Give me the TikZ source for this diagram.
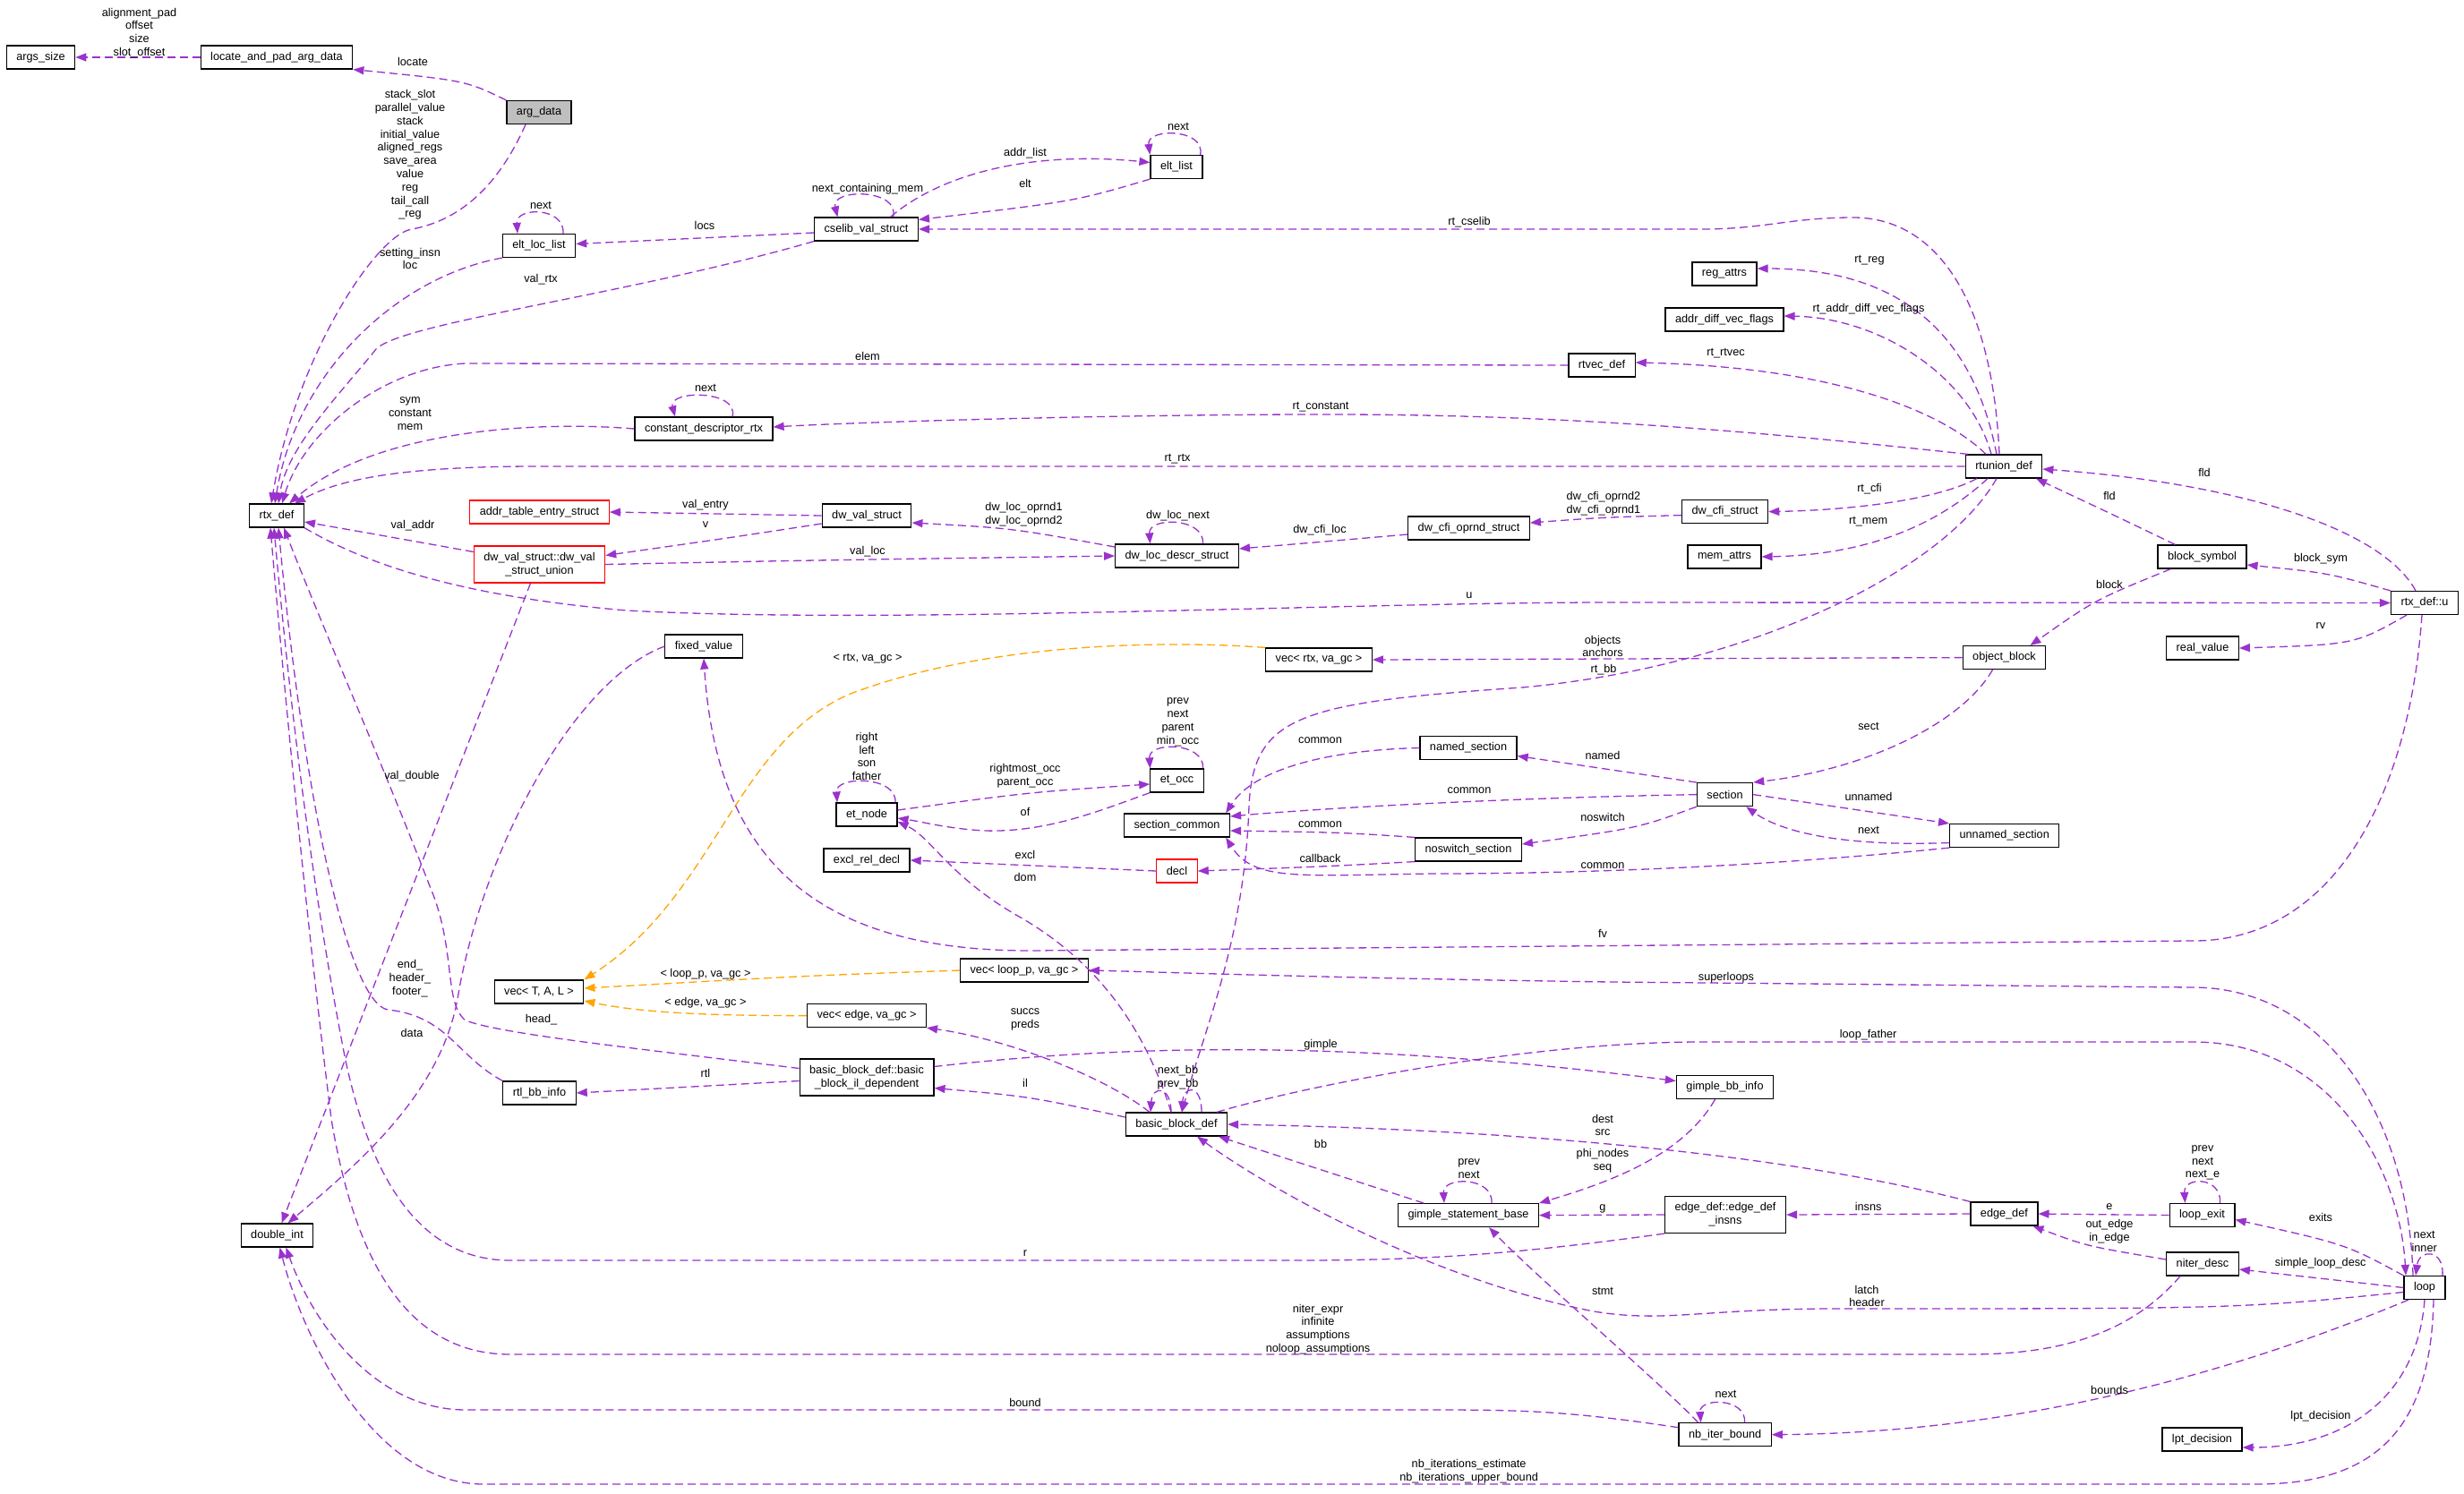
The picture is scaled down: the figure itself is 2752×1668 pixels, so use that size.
\documentclass[tikz,border=0pt]{standalone}
\usepackage{fontspec}
\setmainfont{Liberation Sans}
\usetikzlibrary{arrows.meta}
\definecolor{edgepurple}{HTML}{9A32CD}
\definecolor{instorange}{HTML}{FFA500}
\definecolor{argfill}{HTML}{BFBFBF}
\newcommand{\graphfont}{\fontsize{12.7}{14.8}\selectfont}

\begin{document}
\begin{tikzpicture}[x=1pt, y=-1pt,
  cls/.style={
    rectangle, draw=black, line width=1.2pt, fill=white,
    inner xsep=11pt, inner ysep=0pt, minimum height=26pt,
    font=\graphfont
  },
  clstwo/.style={cls, align=center, minimum height=41pt},
  lbl/.style={font=\graphfont, align=center, inner sep=0pt},
  member/.style={-{Triangle[length=12pt,width=9pt]}, draw=edgepurple,
    line width=1.3pt, dash pattern=on 9pt off 5pt},
  inst/.style={member, draw=instorange}
]
  \useasboundingbox[fill=white] (0,0) rectangle (2752,1668);

  % classes
  \node[cls] (argssize) at (45.5,64) {args\_size};
  \node[cls] (locate) at (309,64) {locate\_and\_pad\_arg\_data};
  \node[cls, fill=argfill] (argdata) at (602,125.5) {arg\_data};
  \node[cls] (eltloclist) at (602,274.5) {elt\_loc\_list};
  \node[cls] (cselib) at (967.5,256) {cselib\_val\_struct};
  \node[cls] (eltlist) at (1314,186.5) {elt\_list};
  \node[cls] (regattrs) at (1926,306) {reg\_attrs};
  \node[cls] (addrdiff) at (1926,357) {addr\_diff\_vec\_flags};
  \node[cls] (rtvec) at (1789,408) {rtvec\_def};
  \node[cls] (constdesc) at (786,479) {constant\_descriptor\_rtx};
  \node[cls] (rtunion) at (2238,521) {rtunion\_def};
  \node[cls] (rtxdef) at (309,576) {rtx\_def};
  \node[cls, draw=red] (addrtable) at (602.5,572) {addr\_table\_entry\_struct};
  \node[clstwo, draw=red] (dwunion) at (602.5,630.5) {dw\_val\_struct::dw\_val\\\_struct\_union};
  \node[cls] (dwval) at (968,576) {dw\_val\_struct};
  \node[cls] (dwlocdescr) at (1314.5,621) {dw\_loc\_descr\_struct};
  \node[cls] (dwcfioprnd) at (1640.5,590) {dw\_cfi\_oprnd\_struct};
  \node[cls] (dwcfi) at (1926.6,571.6) {dw\_cfi\_struct};
  \node[cls] (memattrs) at (1926,622) {mem\_attrs};
  \node[cls] (blocksym) at (2459.5,622) {block\_symbol};
  \node[cls] (rtxu) at (2708,673.5) {rtx\_def::u};
  \node[cls] (realvalue) at (2460,724) {real\_value};
  \node[cls] (objblock) at (2238.5,734.6) {object\_block};
  \node[cls] (vecrtx) at (1473,737) {vec< rtx, va\_gc >};
  \node[cls] (fixedvalue) at (786,722) {fixed\_value};
  \node[cls] (etocc) at (1314.5,872) {et\_occ};
  \node[cls] (etnode) at (968,910) {et\_node};
  \node[cls] (seccommon) at (1314.5,922) {section\_common};
  \node[cls] (namedsec) at (1640,835.5) {named\_section};
  \node[cls] (section) at (1926.5,887.6) {section};
  \node[cls] (unnamedsec) at (2238.7,933.5) {unnamed\_section};
  \node[cls] (noswitch) at (1640,949) {noswitch\_section};
  \node[cls] (excl) at (968,961) {excl\_rel\_decl};
  \node[cls, draw=red] (decl) at (1314.5,973) {decl};
  \node[cls] (vecloop) at (1144,1084) {vec< loop\_p, va\_gc >};
  \node[cls] (vectal) at (602,1108) {vec< T, A, L >};
  \node[cls] (vecedge) at (968,1134.6) {vec< edge, va\_gc >};
  \node[clstwo] (ildep) at (968,1203.5) {basic\_block\_def::basic\\\_block\_il\_dependent};
  \node[cls] (rtlbb) at (602.5,1221) {rtl\_bb\_info};
  \node[cls] (gimplebb) at (1926.5,1214.6) {gimple\_bb\_info};
  \node[cls] (bbdef) at (1314,1256) {basic\_block\_def};
  \node[cls] (gsb) at (1640,1357.6) {gimple\_statement\_base};
  \node[clstwo] (insns) at (1927,1357) {edge\_def::edge\_def\\\_insns};
  \node[cls] (edgedef) at (2238.4,1356) {edge\_def};
  \node[cls] (loopexit) at (2459.5,1357.5) {loop\_exit};
  \node[cls] (niterdesc) at (2460,1412) {niter\_desc};
  \node[cls] (loop) at (2708,1438.5) {loop};
  \node[cls] (doubleint) at (309.5,1380) {double\_int};
  \node[cls] (nbiter) at (1926.6,1602.7) {nb\_iter\_bound};
  \node[cls] (lpt) at (2459.5,1608) {lpt\_decision};

  % members, top left
  \draw[member] (locate.west) -- (argssize.east);
  \draw[member] (argdata.north west) .. controls (520,90) .. (locate.south east);
  \draw[member] ([xshift=-15pt]argdata.south) .. controls (560,200) and (520,245) .. (460,256)
    .. controls (420,262) and (330,400) .. ([xshift=-6pt]rtxdef.north);
  \draw[member] (eltloclist.south west) .. controls (440,310) and (330,420) .. ([xshift=-2pt]rtxdef.north);
  \draw[member] ([xshift=27pt]eltloclist.north) .. controls +(2,-30) and +(-2,-30) .. ([xshift=-24pt]eltloclist.north);
  \draw[member] ([yshift=-4pt]cselib.west) -- ([yshift=2pt]eltloclist.east);
  \draw[member] (cselib.south west) .. controls (700,330) and (450,360) .. (420,390)
    .. controls (380,440) and (320,500) .. ([xshift=2pt]rtxdef.north);
  \draw[member] ([xshift=30pt]cselib.north) .. controls +(8,-32) and +(-8,-32) .. ([xshift=-32pt]cselib.north);
  \draw[member] ([xshift=27pt]cselib.north) .. controls (1050,195) and (1150,168) .. ([yshift=5pt]eltlist.west);
  \draw[member] (eltlist.south west) .. controls (1200,225) .. ([yshift=-3pt]cselib.north east);
  \draw[member] ([xshift=-3pt]eltlist.north east) .. controls +(6,-30) and +(-4,-30) .. (eltlist.north west);
  \draw[member] ([xshift=32pt]constdesc.north) .. controls +(8,-30) and +(-8,-30) .. ([xshift=-32pt]constdesc.north);
  \draw[member] (constdesc.west) .. controls (600,470) and (420,480) .. ([xshift=14pt]rtxdef.north);

  % members of rtunion_def
  \draw[member] ([xshift=-5pt]rtunion.north) .. controls (2225,330) and (2160,243) .. (2070,243)
    .. controls (2000,243) and (1970,256) .. (1900,256) -- (cselib.east);
  \draw[member] ([xshift=-8pt]rtunion.north) .. controls (2205,380) and (2130,300) .. ([yshift=6pt]regattrs.east);
  \draw[member] ([xshift=-14pt]rtunion.north) .. controls (2200,420) and (2100,355) .. ([yshift=4pt]addrdiff.east);
  \draw[member] ([xshift=-20pt]rtunion.north) .. controls (2170,460) and (2050,410) .. ([yshift=3pt]rtvec.east);
  \draw[member] (rtvec.west) -- (520,406) .. controls (430,410) and (340,480) .. ([xshift=6pt]rtxdef.north);
  \draw[member] ([xshift=-40pt]rtunion.north) .. controls (1900,475) and (1700,462) .. (1450,463)
    .. controls (1200,464) and (950,472) .. ([yshift=2pt]constdesc.east);
  \draw[member] (rtunion.west) -- (600,521) .. controls (450,521) and (380,535) .. ([xshift=20pt]rtxdef.north);
  \draw[member] ([xshift=-30pt]rtunion.south) .. controls (2160,560) and (2060,570) .. (dwcfi.east);
  \draw[member] ([xshift=-18pt]rtunion.south) .. controls (2160,590) and (2080,620) .. (memattrs.east);
  \draw[member] ([xshift=-8pt]rtunion.south) .. controls (2170,640) and (1950,745) .. (1700,768)
    .. controls (1450,785) and (1400,800) .. (1395,900)
    .. controls (1390,1050) and (1345,1150) .. ([xshift=6pt]bbdef.north);
  \draw[member] ([xshift=-10pt]rtxu.north) .. controls (2660,590) and (2500,540) .. ([yshift=-3pt]rtunion.east);
  \draw[member] ([xshift=-30pt]blocksym.north) .. controls (2360,575) .. ([xshift=36pt]rtunion.south);
  \draw[member] (rtxu.north west) .. controls (2600,640) .. ([yshift=-9pt]blocksym.east);
  \draw[member] ([xshift=-35pt]blocksym.south) .. controls (2340,670) .. ([xshift=29pt]objblock.north);
  \draw[member] ([xshift=-20pt]rtxu.south) .. controls (2630,720) .. (realvalue.east);
  \draw[member] (rtxdef.south east) .. controls (400,625) and (500,665) .. (700,682)
    .. controls (1000,698) and (1500,673) .. (1800,673) -- (rtxu.west);

  % dwarf structures
  \draw[member] ([yshift=14pt]dwunion.west) .. controls (420,597) .. ([yshift=-7pt]rtxdef.east);
  \draw[member] (dwval.west) -- (addrtable.east);
  \draw[member] ([yshift=-9pt]dwval.west) .. controls (820,600) .. ([yshift=10pt]dwunion.east);
  \draw[member] (dwunion.east) .. controls (900,626) .. (dwlocdescr.west);
  \draw[member] ([yshift=10pt]dwlocdescr.west) .. controls (1130,590) .. ([yshift=-8pt]dwval.east);
  \draw[member] ([xshift=29pt]dwlocdescr.north) .. controls +(2,-30) and +(-2,-30) .. ([xshift=-30pt]dwlocdescr.north);
  \draw[member] ([yshift=-7pt]dwcfioprnd.west) .. controls (1480,605) .. ([yshift=8pt]dwlocdescr.east);
  \draw[member] ([yshift=-4pt]dwcfi.west) .. controls (1790,578) .. ([yshift=6pt]dwcfioprnd.east);
  \draw[member] ([xshift=-10pt]dwunion.south) -- ([xshift=5pt]doubleint.north);
  \draw[member] (fixedvalue.west) .. controls (640,760) and (540,950) .. (512,1110)
    .. controls (495,1220) and (400,1300) .. ([xshift=12pt]doubleint.north);

  % vectors
  \draw[member] (objblock.west) -- (vecrtx.east);
  \draw[inst] (vecrtx.north west) .. controls (1300,715) and (1100,718) .. (950,775)
    .. controls (820,830) and (800,1000) .. (vectal.north east);
  \draw[inst] (vecloop.west) .. controls (900,1090) .. ([yshift=4pt]vectal.east);
  \draw[inst] (vecedge.west) .. controls (760,1135) and (700,1128) .. ([yshift=-10pt]vectal.east);

  % sections
  \draw[member] ([xshift=-13pt]objblock.south) .. controls (2190,810) and (2080,860) .. (section.north east);
  \draw[member] (section.north west) -- ([yshift=-9pt]namedsec.east);
  \draw[member] (namedsec.west) .. controls (1480,838) and (1400,860) .. ([xshift=-5pt]seccommon.north east);
  \draw[member] (section.west) .. controls (1650,892) and (1450,905) .. ([yshift=10pt]seccommon.east);
  \draw[member] (noswitch.north west) .. controls (1500,930) .. ([yshift=-6pt]seccommon.east);
  \draw[member] (section.south west) .. controls (1830,925) .. ([yshift=6pt]noswitch.east);
  \draw[member] (noswitch.south west) .. controls (1480,968) .. (decl.east);
  \draw[member] (decl.west) -- (excl.east);
  \draw[member] (unnamedsec.south west) .. controls (2000,965) and (1800,976) .. (1600,976)
    .. controls (1450,978) and (1400,985) .. ([xshift=-5pt]seccommon.south east);
  \draw[member] (section.east) -- (unnamedsec.north west);
  \draw[member] ([yshift=-8pt]unnamedsec.west) .. controls (2060,946) and (1990,930) .. ([xshift=-8pt]section.south east);
  \draw[member] ([xshift=-3pt]rtxu.south) .. controls (2690,900) and (2600,1051) .. (2450,1051)
    -- (1150,1062) .. controls (900,1062) and (800,950) .. (fixedvalue.south);

  % et tree
  \draw[member] ([yshift=5pt]etnode.east) .. controls (1150,885) .. ([yshift=-4pt]etocc.west);
  \draw[member] (etocc.south west) .. controls (1230,905) and (1170,930) .. (1100,928)
    .. controls (1060,926) and (1030,918) .. ([yshift=-4pt]etnode.east);
  \draw[member] ([xshift=29pt]etocc.north) .. controls +(2,-30) and +(-2,-30) .. ([xshift=-30pt]etocc.north);
  \draw[member] ([xshift=32pt]etnode.north) .. controls +(2,-30) and +(-2,-30) .. ([xshift=-33pt]etnode.north);

  % basic blocks
  \draw[member] ([xshift=-6pt]bbdef.north) .. controls (1270,1120) and (1200,1060) .. (1140,1025)
    .. controls (1060,980) and (1040,935) .. ([yshift=-8pt]etnode.east);
  \draw[member] ([xshift=-30pt]bbdef.north) .. controls (1230,1200) and (1120,1160) .. (vecedge.south east);
  \draw[member] ([xshift=-6pt]bbdef.north) .. controls +(0,-30) and +(2,-30) .. ([xshift=-29pt]bbdef.north);
  \draw[member] ([xshift=28pt]bbdef.north) .. controls +(0,-32) and +(2,-30) .. ([xshift=6pt]bbdef.north);
  \draw[member] ([yshift=8pt]bbdef.west) .. controls (1150,1225) .. ([yshift=-12pt]ildep.east);
  \draw[member] ([yshift=12pt]ildep.east) .. controls (1250,1168) and (1500,1160) .. ([yshift=7pt]gimplebb.west);
  \draw[member] ([yshift=-4pt]ildep.west) -- (rtlbb.east);
  \draw[member] ([yshift=10pt]ildep.west) .. controls (700,1170) and (560,1155) .. (520,1140)
    .. controls (495,1120) and (510,1060) .. (480,990)
    .. controls (430,860) and (360,700) .. ([xshift=8pt]rtxdef.south);
  \draw[member] (rtlbb.north west) .. controls (510,1180) and (500,1135) .. (433,1128)
    .. controls (390,1120) and (340,900) .. ([xshift=2pt]rtxdef.south);
  \draw[member] ([xshift=45pt]bbdef.north) .. controls (1450,1215) and (1700,1164) .. (1900,1164)
    -- (2450,1164) .. controls (2600,1164) and (2680,1300) .. ([xshift=-21pt]loop.north);

  % gimple and edges
  \draw[member] ([xshift=-50pt]gsb.north) -- ([xshift=47pt]bbdef.south);
  \draw[member] ([xshift=26pt]gsb.north) .. controls +(2,-30) and +(-2,-30) .. ([xshift=-27pt]gsb.north);
  \draw[member] (edgedef.north west) .. controls (2000,1290) and (1700,1262) .. (bbdef.east);
  \draw[member] ([xshift=-11pt]gimplebb.south) .. controls (1880,1290) and (1800,1320) .. (gsb.north east);
  \draw[member] (insns.west) -- (gsb.east);
  \draw[member] (edgedef.west) -- (insns.east);
  \draw[member] (insns.south west) .. controls (1700,1400) and (1600,1408) .. (1450,1408) -- (570,1408)
    .. controls (460,1408) and (410,1300) .. (385,1180)
    .. controls (350,1000) and (325,800) .. ([xshift=-3pt]rtxdef.south);

  % loops
  \draw[member] (loopexit.west) -- (edgedef.east);
  \draw[member] ([xshift=20pt]loopexit.north) .. controls +(2,-30) and +(-2,-30) .. ([xshift=-19pt]loopexit.north);
  \draw[member] ([yshift=5pt]niterdesc.west) .. controls (2330,1392) .. ([xshift=32pt]edgedef.south);
  \draw[member] (loop.north west) .. controls (2620,1390) .. ([yshift=-5pt]loopexit.east);
  \draw[member] (loop.west) -- ([yshift=-6pt]niterdesc.east);
  \draw[member] ([xshift=-25pt]niterdesc.south) .. controls (2380,1490) and (2300,1513) .. (2200,1513) -- (570,1513)
    .. controls (450,1513) and (395,1400) .. (370,1250)
    .. controls (345,1050) and (320,800) .. ([xshift=-7pt]rtxdef.south);
  \draw[member] ([xshift=20pt]loop.north) .. controls +(2,-30) and +(4,-30) .. ([xshift=-10pt]loop.north);
  \draw[member] ([xshift=-13pt]loop.north) .. controls (2690,1250) and (2600,1104) .. (2450,1103)
    -- (1800,1097) .. controls (1500,1093) and (1300,1086) .. (vecloop.east);
  \draw[member] ([yshift=-5pt]loop.west) .. controls (2500,1462) .. (2050,1462)
    .. controls (1900,1462) and (1860,1478) .. (1780,1465)
    .. controls (1600,1430) and (1420,1330) .. ([xshift=23pt]bbdef.south);
  \draw[member] ([xshift=-18pt]loop.south) .. controls (2550,1510) and (2300,1600) .. (nbiter.east);
  \draw[member] ([xshift=-30pt]nbiter.north) .. controls (1860,1550) and (1720,1430) .. ([xshift=23pt]gsb.south);
  \draw[member] ([xshift=22pt]nbiter.north) .. controls +(2,-28) and +(-2,-28) .. ([xshift=-27pt]nbiter.north);
  \draw[member] ([yshift=8pt]nbiter.west) .. controls (1750,1576) and (1700,1575) .. (1600,1575) -- (520,1575)
    .. controls (420,1575) and (350,1480) .. ([xshift=10pt]doubleint.south);
  \draw[member] (loop.south) .. controls (2700,1560) and (2620,1617) .. ([yshift=-9pt]lpt.east);
  \draw[member] ([xshift=10pt]loop.south) .. controls (2715,1600) and (2650,1658) .. (2520,1658) -- (540,1658)
    .. controls (420,1658) and (340,1500) .. ([xshift=3pt]doubleint.south);

  % edge labels
  \node[lbl] (l-align) at (155.5,37) {alignment\_pad\\offset\\size\\slot\_offset};
  \node[lbl] (l-locate) at (461,69) {locate};
  \node[lbl] (l-slot) at (458,173) {stack\_slot\\parallel\_value\\stack\\initial\_value\\aligned\_regs\\save\_area\\value\\reg\\tail\_call\\\_reg};
  \node[lbl] (l-ellnext) at (604,229) {next};
  \node[lbl] (l-setting) at (458,289) {setting\_insn\\loc};
  \node[lbl] (l-locs) at (787,252) {locs};
  \node[lbl] (l-valrtx) at (604,312) {val\_rtx};
  \node[lbl] (l-ncm) at (969,211) {next\_containing\_mem};
  \node[lbl] (l-addrlist) at (1145,171) {addr\_list};
  \node[lbl] (l-elt) at (1145,205) {elt};
  \node[lbl] (l-elnext) at (1316,141) {next};
  \node[lbl] (l-cselib) at (1641,248) {rt\_cselib};
  \node[lbl] (l-rtreg) at (2088,291) {rt\_reg};
  \node[lbl] (l-rtaddr) at (2087,345) {rt\_addr\_diff\_vec\_flags};
  \node[lbl] (l-rtvec) at (1927.5,395) {rt\_rtvec};
  \node[lbl] (l-elem) at (969,398) {elem};
  \node[lbl] (l-cdnext) at (788,433) {next};
  \node[lbl] (l-sym) at (458,462) {sym\\constant\\mem};
  \node[lbl] (l-rtconst) at (1475,455) {rt\_constant};
  \node[lbl] (l-rtrtx) at (1315,513) {rt\_rtx};
  \node[lbl] (l-rtcfi) at (2088,546) {rt\_cfi};
  \node[lbl] (l-rtmem) at (2086.6,583) {rt\_mem};
  \node[lbl] (l-fld) at (2462,528) {fld};
  \node[lbl] (l-fldb) at (2356,554) {fld};
  \node[lbl] (l-blocksym) at (2592,624.6) {block\_sym};
  \node[lbl] (l-block) at (2356,652.5) {block};
  \node[lbl] (l-rv) at (2592,699) {rv};
  \node[lbl] (l-u) at (1641,665) {u};
  \node[lbl] (l-valentry) at (788,564) {val\_entry};
  \node[lbl] (l-v) at (788,586) {v};
  \node[lbl] (l-valaddr) at (461,587.5) {val\_addr};
  \node[lbl] (l-oprnd) at (1143.5,575) {dw\_loc\_oprnd1\\dw\_loc\_oprnd2};
  \node[lbl] (l-locnext) at (1315.5,576) {dw\_loc\_next};
  \node[lbl] (l-cfiloc) at (1474,592) {dw\_cfi\_loc};
  \node[lbl] (l-cfioprnd) at (1791,563) {dw\_cfi\_oprnd2\\dw\_cfi\_oprnd1};
  \node[lbl] (l-valloc) at (969,616) {val\_loc};
  \node[lbl] (l-objects) at (1790,722) {objects\\anchors};
  \node[lbl] (l-rtbb) at (1791,748) {rt\_bb};
  \node[lbl] (l-rtxgc) at (969,736) {< rtx, va\_gc >};
  \node[lbl] (l-sect) at (2087,811) {sect};
  \node[lbl] (l-occ) at (1315.5,807) {prev\\next\\parent\\min\_occ};
  \node[lbl] (l-etnode) at (968,845) {right\\left\\son\\father};
  \node[lbl] (l-rightmost) at (1145,867) {rightmost\_occ\\parent\_occ};
  \node[lbl] (l-of) at (1145,907) {of};
  \node[lbl] (l-common) at (1474.5,827) {common};
  \node[lbl] (l-named) at (1790,843.6) {named};
  \node[lbl] (l-commonb) at (1641,883) {common};
  \node[lbl] (l-unnamed) at (2087,890) {unnamed};
  \node[lbl] (l-noswitch) at (1790,912.5) {noswitch};
  \node[lbl] (l-commonc) at (1474.5,921) {common};
  \node[lbl] (l-secnext) at (2087,927) {next};
  \node[lbl] (l-callback) at (1474.5,958.6) {callback};
  \node[lbl] (l-commond) at (1790,967) {common};
  \node[lbl] (l-excl) at (1145,955) {excl};
  \node[lbl] (l-dom) at (1145,980) {dom};
  \node[lbl] (l-fv) at (1790,1042.5) {fv};
  \node[lbl] (l-valdouble) at (460,867.5) {val\_double};
  \node[lbl] (l-end) at (458,1093) {end\_\\header\_\\footer\_};
  \node[lbl] (l-loopgc) at (788,1088) {< loop\_p, va\_gc >};
  \node[lbl] (l-superloops) at (1928,1092) {superloops};
  \node[lbl] (l-edgegc) at (788,1120) {< edge, va\_gc >};
  \node[lbl] (l-head) at (604.5,1139) {head\_};
  \node[lbl] (l-data) at (460,1154) {data};
  \node[lbl] (l-succs) at (1145,1139) {succs\\preds};
  \node[lbl] (l-loopfather) at (2086.6,1156) {loop\_father};
  \node[lbl] (l-gimple) at (1475,1167) {gimple};
  \node[lbl] (l-rtl) at (788,1199) {rtl};
  \node[lbl] (l-nextbb) at (1315.5,1204) {next\_bb\\prev\_bb};
  \node[lbl] (l-il) at (1145,1210) {il};
  \node[lbl] (l-dest) at (1790,1257) {dest\\src};
  \node[lbl] (l-bb) at (1475,1278) {bb};
  \node[lbl] (l-phi) at (1790,1297) {phi\_nodes\\seq};
  \node[lbl] (l-gsbnext) at (1640.6,1306) {prev\\next};
  \node[lbl] (l-exitnext) at (2460,1299) {prev\\next\\next\_e};
  \node[lbl] (l-g) at (1790,1350) {g};
  \node[lbl] (l-insns) at (2086.6,1348) {insns};
  \node[lbl] (l-e) at (2356,1348) {e};
  \node[lbl] (l-exits) at (2592,1360) {exits};
  \node[lbl] (l-outedge) at (2356,1376) {out\_edge\\in\_edge};
  \node[lbl] (l-inner) at (2707.7,1387) {next\\inner};
  \node[lbl] (l-r) at (1145,1400) {r};
  \node[lbl] (l-simple) at (2591.7,1411.6) {simple\_loop\_desc};
  \node[lbl] (l-stmt) at (1790,1442) {stmt};
  \node[lbl] (l-latch) at (2085,1448) {latch\\header};
  \node[lbl] (l-niter) at (1472,1485) {niter\_expr\\infinite\\assumptions\\noloop\_assumptions};
  \node[lbl] (l-bounds) at (2356,1553) {bounds};
  \node[lbl] (l-nbnext) at (1927.5,1557) {next};
  \node[lbl] (l-bound) at (1145,1566.7) {bound};
  \node[lbl] (l-lpt) at (2592,1582.6) {lpt\_decision};
  \node[lbl] (l-nbest) at (1640.6,1644) {nb\_iterations\_estimate\\nb\_iterations\_upper\_bound};
\end{tikzpicture}
\end{document}
